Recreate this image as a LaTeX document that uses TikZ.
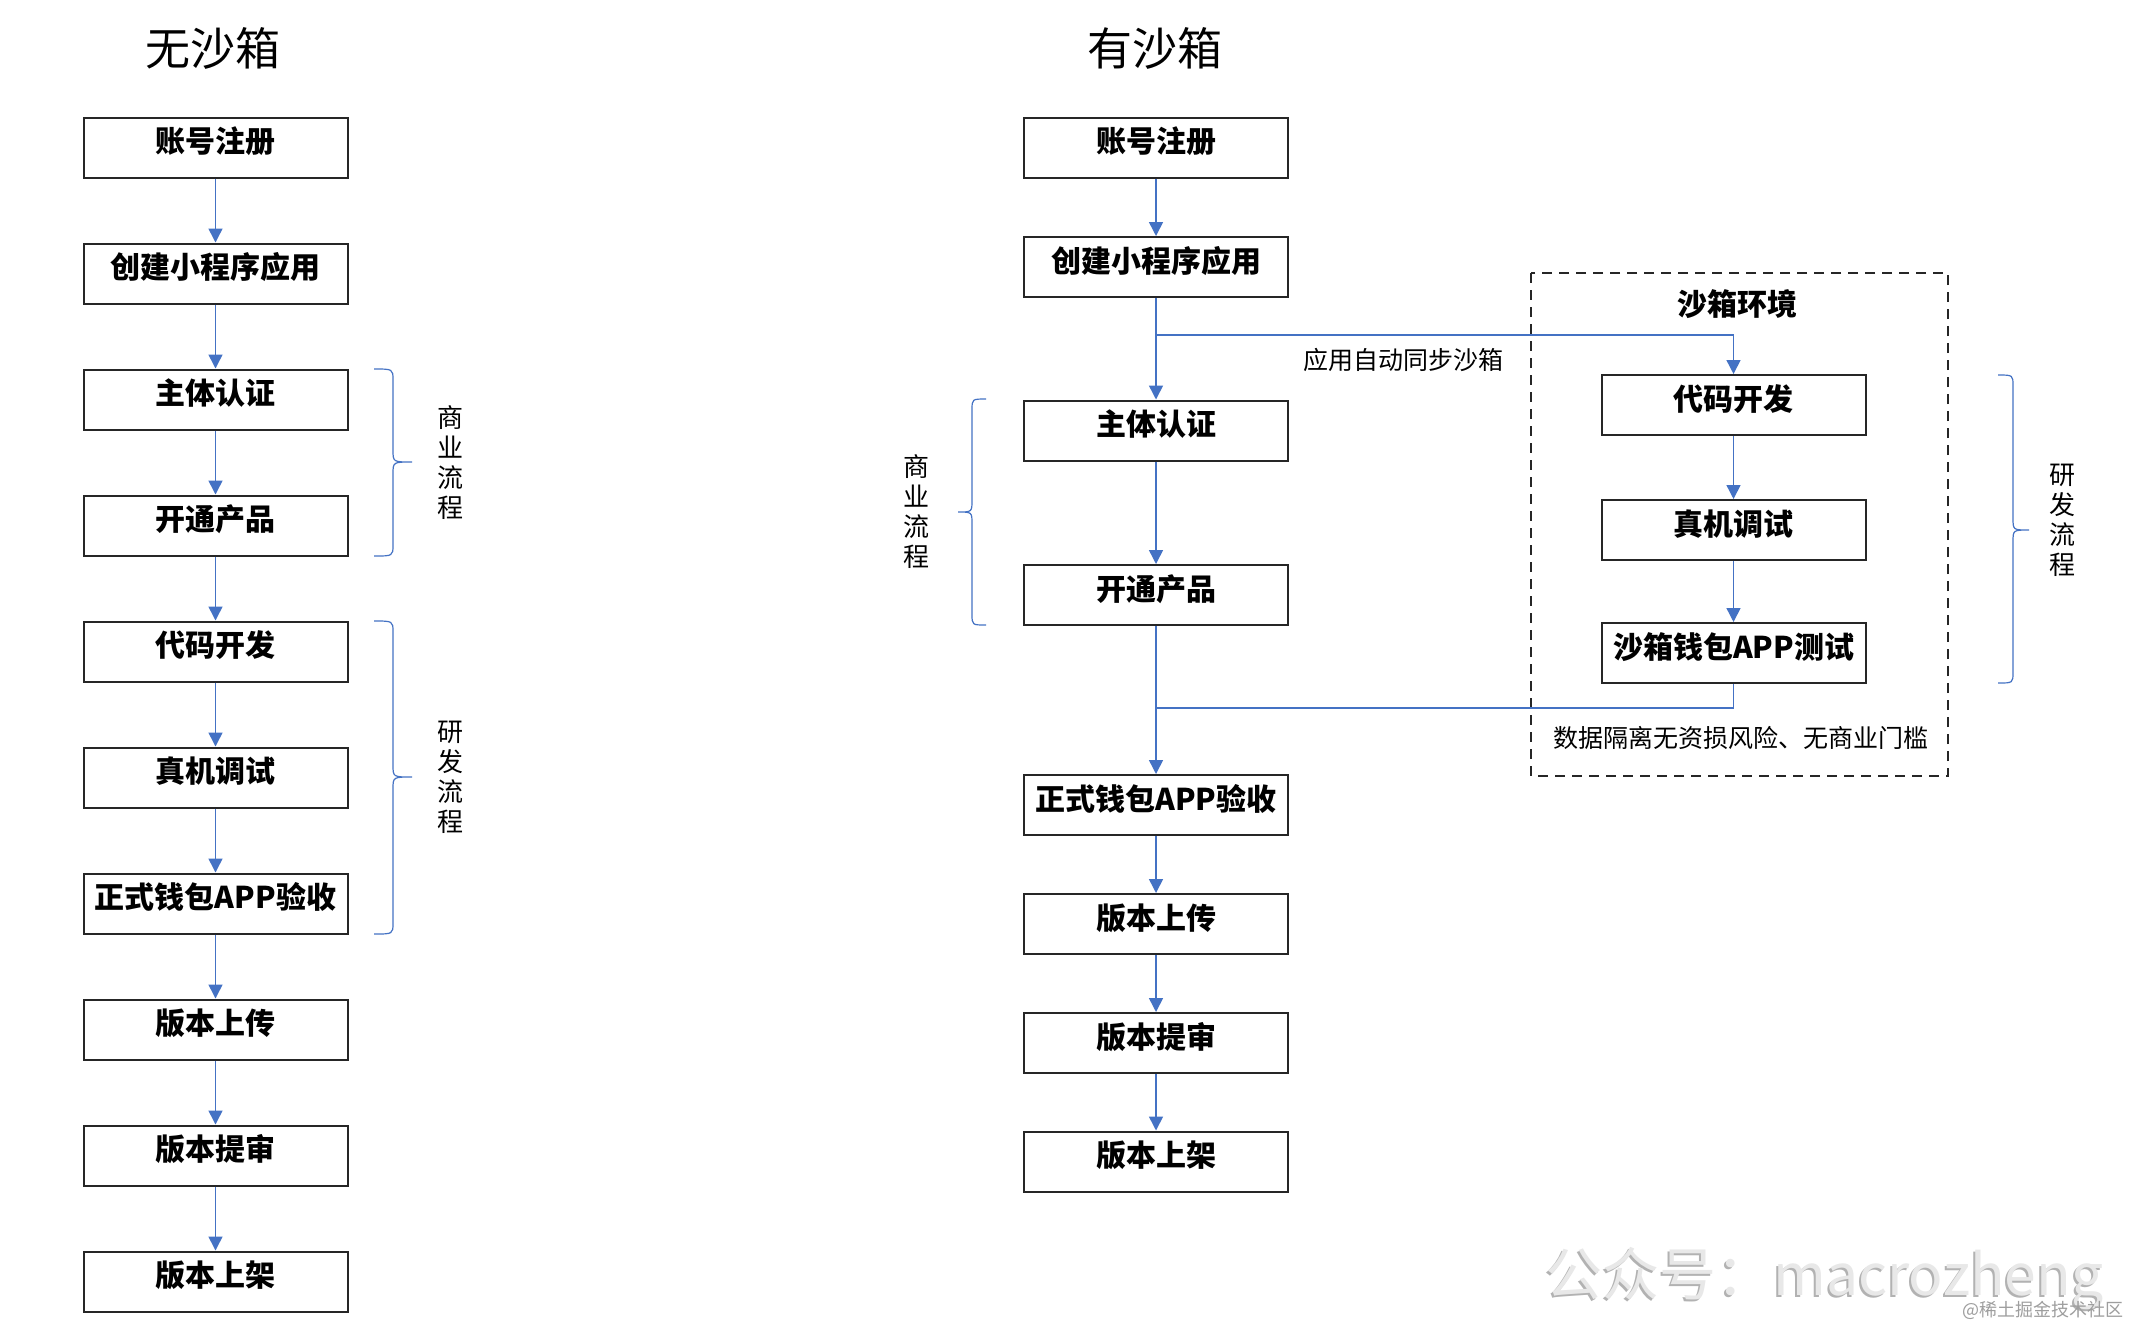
\documentclass[tikz,border=0pt]{standalone}
\usepackage{fontspec}
\setmainfont{Noto Sans CJK SC}[BoldFont={Noto Sans CJK SC Black}]
\usetikzlibrary{arrows.meta}
\definecolor{arrowblue}{HTML}{4472C4}
\begin{document}
\begin{tikzpicture}[x=0.5pt,y=-0.5pt,
  box/.style={draw=black!85, line width=1pt, minimum width=132pt, minimum height=30pt, inner sep=0pt, text height=0.8em, text depth=0.3em, font=\bfseries\fontsize{15pt}{18pt}\selectfont},
  arr/.style={draw=arrowblue, line width=0.75pt, -{Triangle[width=7pt,length=7pt]}},
  ln/.style={draw=arrowblue, line width=0.75pt},
  brc/.style={draw=arrowblue, line width=0.6pt},
  vlab/.style={align=center, font=\fontsize{13pt}{15pt}\selectfont, inner sep=0pt},
  title/.style={font=\fontsize{22.5pt}{26pt}\selectfont, inner sep=0pt},
  note/.style={font=\fontsize{12.5pt}{15pt}\selectfont, inner sep=0pt},
  wmark/.style={anchor=west, inner sep=0pt, font=\fontsize{28.5pt}{30pt}\selectfont},
]
\useasboundingbox[fill=white] (0,0) rectangle (2130,1324);

% titles
\node[title] (t1) at (213,48) {无沙箱};
\node[title] (t2) at (1155,48) {有沙箱};

% left column
\node[box] (L1) at (215.5,147.5) {账号注册};
\node[box] (L2) at (215.5,273.5) {创建小程序应用};
\node[box] (L3) at (215.5,399.5) {主体认证};
\node[box] (L4) at (215.5,525.5) {开通产品};
\node[box] (L5) at (215.5,651.5) {代码开发};
\node[box] (L6) at (215.5,777.5) {真机调试};
\node[box] (L7) at (215.5,903.5) {正式钱包APP验收};
\node[box] (L8) at (215.5,1029.5) {版本上传};
\node[box] (L9) at (215.5,1155.5) {版本提审};
\node[box] (L10) at (215.5,1281.5) {版本上架};
\draw[arr] (L1) -- (L2);
\draw[arr] (L2) -- (L3);
\draw[arr] (L3) -- (L4);
\draw[arr] (L4) -- (L5);
\draw[arr] (L5) -- (L6);
\draw[arr] (L6) -- (L7);
\draw[arr] (L7) -- (L8);
\draw[arr] (L8) -- (L9);
\draw[arr] (L9) -- (L10);

% left braces
\draw[brc] (374,369) .. controls (393,369) .. (393,380) -- (393,450) .. controls (393,462) .. (412,462) .. controls (393,462) .. (393,474) -- (393,545) .. controls (393,556) .. (374,556);
\draw[brc] (374,621) .. controls (393,621) .. (393,632) -- (393,765) .. controls (393,777) .. (412,777) .. controls (393,777) .. (393,789) -- (393,923) .. controls (393,934) .. (374,934);
\node[vlab] (lb1) at (450,463) {商\\业\\流\\程};
\node[vlab] (lb2) at (450,777) {研\\发\\流\\程};

% right column
\node[box] (R1) at (1156,147.5) {账号注册};
\node[box] (R2) at (1156,267) {创建小程序应用};
\node[box] (R3) at (1156,430.5) {主体认证};
\node[box] (R4) at (1156,595) {开通产品};
\node[box] (R5) at (1156,805) {正式钱包APP验收};
\node[box] (R6) at (1156,924) {版本上传};
\node[box] (R7) at (1156,1043) {版本提审};
\node[box] (R8) at (1156,1161.5) {版本上架};
\draw[arr] (R1) -- (R2);
\draw[arr] (R2) -- (R3);
\draw[arr] (R3) -- (R4);
\draw[arr] (R4) -- (R5);
\draw[arr] (R5) -- (R6);
\draw[arr] (R6) -- (R7);
\draw[arr] (R7) -- (R8);

% sandbox
\draw[black!85, line width=1pt, dash pattern=on 5pt off 3.5pt] (1531,273) rectangle (1948,776);
\node[font=\bfseries\fontsize{15pt}{18pt}\selectfont, inner sep=0pt] (sbt) at (1737,304) {沙箱环境};
\node[box] (S1) at (1733.5,405) {代码开发};
\node[box] (S2) at (1733.5,530) {真机调试};
\node[box] (S3) at (1733.5,653) {沙箱钱包APP测试};
\draw[arr] (S1) -- (S2);
\draw[arr] (S2) -- (S3);
\node[note] (sbn) at (1741,738) {数据隔离无资损风险、无商业门槛};

\coordinate (syncA) at (1156,335);
\coordinate (joinB) at (1156,708);
\draw[arr] (syncA) -| (S1.north);
\draw[ln] (S3.south) |- (joinB);
\node[note] (syncl) at (1403,360) {应用自动同步沙箱};

% right braces
\draw[brc] (986,399) .. controls (972,399) .. (972,410) -- (972,500) .. controls (972,512) .. (958,512) .. controls (972,512) .. (972,524) -- (972,614) .. controls (972,625) .. (986,625);
\node[vlab] (rb1) at (916,512) {商\\业\\流\\程};
\draw[brc] (1998,375) .. controls (2013,375) .. (2013,386) -- (2013,518) .. controls (2013,530) .. (2029,530) .. controls (2013,530) .. (2013,542) -- (2013,672) .. controls (2013,683) .. (1998,683);
\node[vlab] (rb2) at (2062,520) {研\\发\\流\\程};

% watermark
\node[wmark, text=black!30] (wmshadow) at (1543,1280) {公众号：macrozheng};
\node[wmark, text=black!9] (wm) at (1545,1278) {公众号：macrozheng};
\node[anchor=east, text=black!38, inner sep=0pt, font=\fontsize{9pt}{10pt}\selectfont] (wm2) at (2124,1310) {@稀土掘金技术社区};
\end{tikzpicture}
\end{document}
